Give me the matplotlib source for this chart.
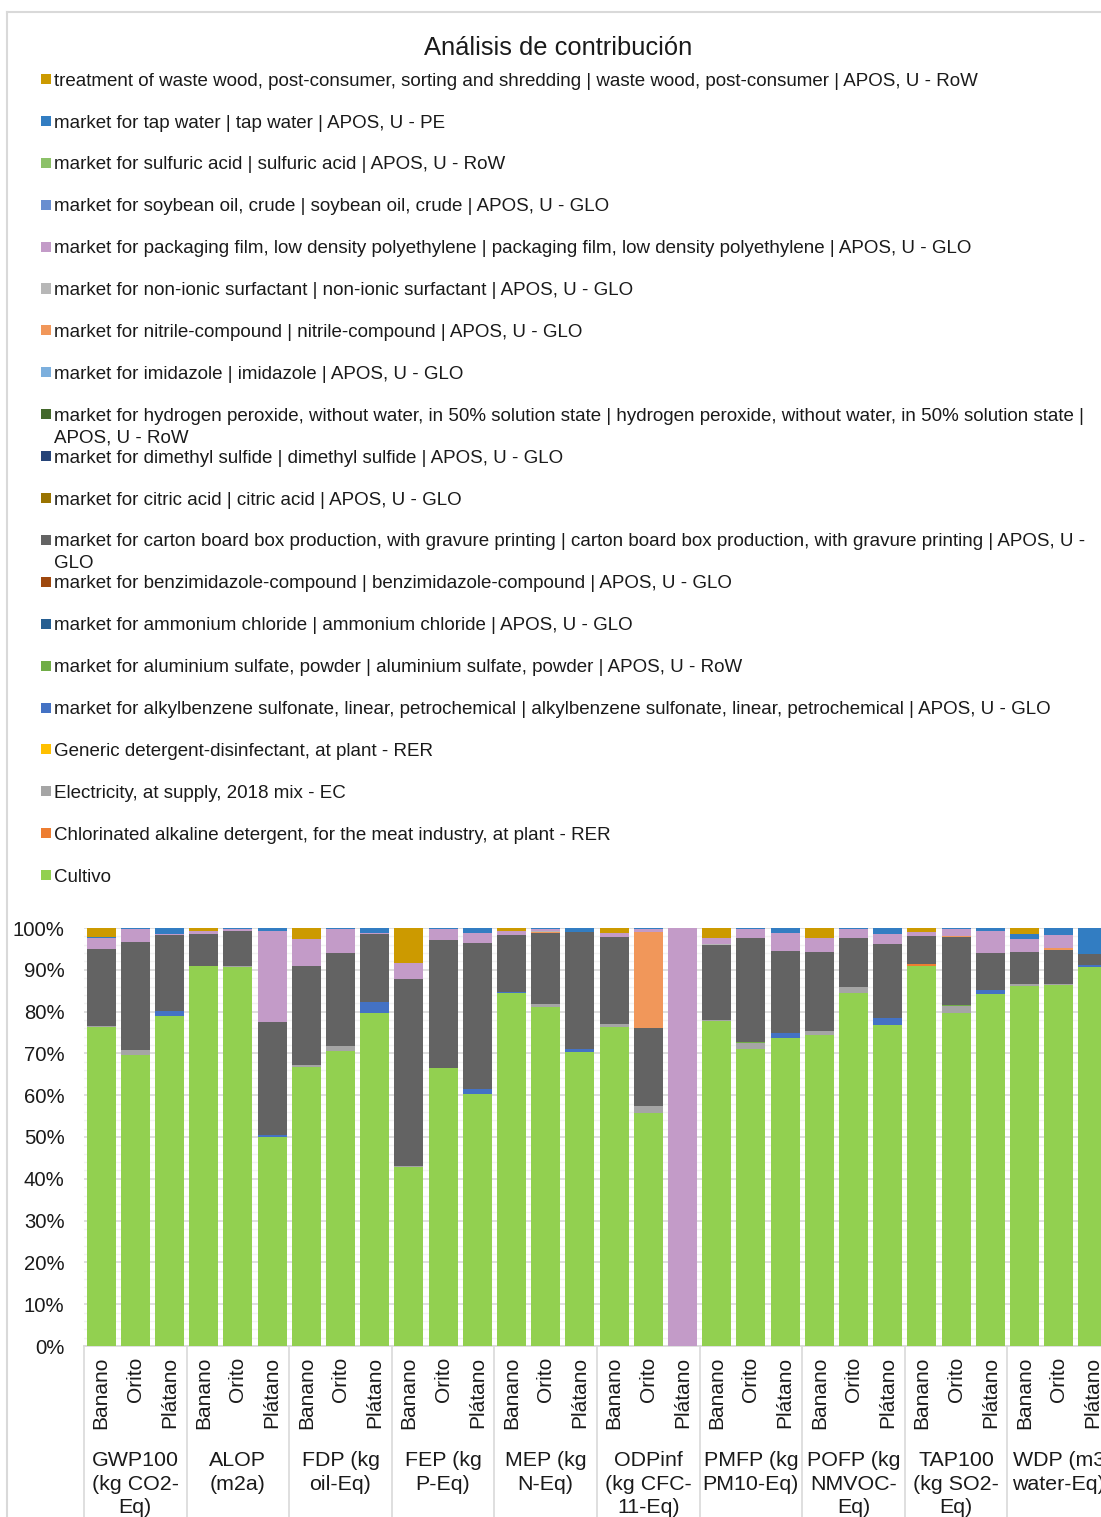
import numpy as np
import matplotlib
matplotlib.use("Agg")
import matplotlib.pyplot as plt
from matplotlib.patches import Rectangle
from matplotlib.lines import Line2D
from matplotlib.ticker import MultipleLocator, FuncFormatter
import matplotlib.transforms as mtransforms

plt.rcParams['font.family'] = ['Liberation Sans', 'DejaVu Sans']

W, H, DPI = 1101, 1517, 100
TXT = '#1a1a1a'

title = "Análisis de contribución"
varieties = ["Banano", "Orito", "Plátano"]
categories = ["GWP100\n(kg CO2-\nEq)", "ALOP\n(m2a)", "FDP (kg\noil-Eq)", "FEP (kg\nP-Eq)",
              "MEP (kg\nN-Eq)", "ODPinf\n(kg CFC-\n11-Eq)", "PMFP (kg\nPM10-Eq)",
              "POFP (kg\nNMVOC-\nEq)", "TAP100\n(kg SO2-\nEq)", "WDP (m3\nwater-Eq)"]

# series, bottom of the stack first
series_names = [
    "Cultivo",
    "Chlorinated alkaline detergent, for the meat industry, at plant - RER",
    "Electricity, at supply, 2018 mix - EC",
    "Generic detergent-disinfectant, at plant - RER",
    "market for alkylbenzene sulfonate, linear, petrochemical | alkylbenzene sulfonate, linear, petrochemical | APOS, U - GLO",
    "market for aluminium sulfate, powder | aluminium sulfate, powder | APOS, U - RoW",
    "market for ammonium chloride | ammonium chloride | APOS, U - GLO",
    "market for benzimidazole-compound | benzimidazole-compound | APOS, U - GLO",
    "market for carton board box production, with gravure printing | carton board box production, with gravure printing | APOS, U -\nGLO",
    "market for citric acid | citric acid | APOS, U - GLO",
    "market for dimethyl sulfide | dimethyl sulfide | APOS, U - GLO",
    "market for hydrogen peroxide, without water, in 50% solution state | hydrogen peroxide, without water, in 50% solution state |\nAPOS, U - RoW",
    "market for imidazole | imidazole | APOS, U - GLO",
    "market for nitrile-compound | nitrile-compound | APOS, U - GLO",
    "market for non-ionic surfactant | non-ionic surfactant | APOS, U - GLO",
    "market for packaging film, low density polyethylene | packaging film, low density polyethylene | APOS, U - GLO",
    "market for soybean oil, crude | soybean oil, crude | APOS, U - GLO",
    "market for sulfuric acid | sulfuric acid | APOS, U - RoW",
    "market for tap water | tap water | APOS, U - PE",
    "treatment of waste wood, post-consumer, sorting and shredding | waste wood, post-consumer | APOS, U - RoW",
]
series_colors = ["#92D050", "#ED7D31", "#A5A5A5", "#FFC000", "#4472C4", "#70AD47",
                 "#255E91", "#9E480E", "#636363", "#997300", "#264478", "#43682B",
                 "#7CAFDD", "#F1975A", "#B7B7B7", "#C39BC8", "#698ED0", "#8CC168",
                 "#327DC2", "#CC9A00"]

cultivo = [76.2, 69.5, 78.9, 90.9, 90.7, 49.9, 66.7, 70.5, 79.6, 42.8,
           66.4, 60.2, 84.5, 81.1, 70.4, 76.4, 55.7, 0.0, 77.7, 71.1,
           73.8, 74.4, 84.5, 76.8, 91.0, 79.6, 84.3, 86.2, 86.4, 90.7]
chlorinated = [0]*24 + [0.3] + [0]*5
electricity = [0.3, 1.2, 0.1, 0.1, 0.1, 0.0, 0.5, 1.3, 0.1, 0.2,
               0.1, 0.0, 0.0, 0.6, 0.0, 0.6, 1.7, 0.0, 0.3, 1.4,
               0.0, 0.9, 1.4, 0.0, 0.0, 1.8, 0.0, 0.3, 0.3, 0.0]
generic = [0]*30
alkylbenzene = [0.0, 0.0, 1.1, 0.0, 0.0, 0.5, 0.0, 0.0, 2.5, 0.0,
                0.0, 1.2, 0.3, 0.0, 0.55, 0.0, 0.0, 0.0, 0.0, 0.0,
                1.2, 0.0, 0.0, 1.6, 0.0, 0.0, 0.8, 0.0, 0.0, 0.4]
aluminium = [0]*19 + [0.3] + [0]*5 + [0.2] + [0]*4
ammonium = [0]*30
benzimidazole = [0]*30
carton = [18.5, 25.85, 18.3, 7.6, 8.4, 27.15, 23.7, 22.15, 16.4, 44.9,
          30.7, 35.1, 13.6, 17.1, 28.15, 20.75, 18.7, 0.0, 17.95, 24.8,
          19.4, 19.05, 11.8, 17.75, 6.9, 16.3, 9.0, 7.75, 8.15, 2.75]
citric = [0]*30
dimethyl = [0]*30
hydrogen = [0]*30
imidazole = [0]*30
nitrile = [0]*13 + [0.3] + [0]*2 + [23.0] + [0]*8 + [0.25] + [0]*2 + [0.45, 0]
nonionic = [0]*13 + [0.2] + [0]*4 + [0.3] + [0]*11
packaging = [2.5, 3.2, 0.2, 0.8, 0.6, 21.8, 6.4, 5.8, 0.1, 3.75,
             2.55, 2.2, 0.8, 0.5, 0.0, 0.95, 0.65, 100.0, 1.35, 2.15,
             4.3, 3.35, 2.05, 2.4, 0.8, 1.6, 5.25, 3.2, 3.05, 0.0]
soybean = [0]*30
sulfuric = [0]*30
tap_water = [0.3, 0.25, 1.4, 0.0, 0.2, 0.65, 0.0, 0.25, 1.3, 0.0,
             0.25, 1.3, 0.0, 0.2, 0.9, 0.0, 0.25, 0.0, 0.0, 0.25,
             1.3, 0.0, 0.25, 1.45, 0.0, 0.25, 0.65, 1.1, 1.65, 6.15]
waste_wood = [2.2, 0.0, 0.0, 0.6, 0.0, 0.0, 2.7, 0.0, 0.0, 8.35,
              0.0, 0.0, 0.8, 0.0, 0.0, 1.3, 0.0, 0.0, 2.4, 0.0,
              0.0, 2.3, 0.0, 0.0, 1.0, 0.0, 0.0, 1.45, 0.0, 0.0]

series_values = [cultivo, chlorinated, electricity, generic, alkylbenzene, aluminium,
                 ammonium, benzimidazole, carton, citric, dimethyl, hydrogen, imidazole,
                 nitrile, nonionic, packaging, soybean, sulfuric, tap_water, waste_wood]

data = np.array(series_values, dtype=float)
data = data / data.sum(axis=0) * 100.0

fig = plt.figure(figsize=(W / DPI, H / DPI), dpi=DPI)

def fx(px):
    return px / W

def fy(py):
    return 1 - py / H

# chart area border (continues past the right/bottom edges)
fig.add_artist(Line2D([fx(7), fx(7)], [fy(12), 0], color='#D9D9D9', lw=1.5))
fig.add_artist(Line2D([fx(7), 1.0], [fy(12), fy(12)], color='#D9D9D9', lw=1.5))

fig.text(fx(558), fy(48), title, ha='center', va='center', fontsize=18.4, color=TXT)

# legend (reverse order, like Excel)
leg_top, leg_step = 79, 41.9
for k, idx in enumerate(range(len(series_names) - 1, -1, -1)):
    yc = leg_top + k * leg_step
    fig.add_artist(Rectangle((fx(41), fy(yc + 5)), 10 / W, 10 / H,
                             transform=fig.transFigure, facecolor=series_colors[idx],
                             edgecolor='none'))
    lines = series_names[idx].split("\n")
    for j, ln in enumerate(lines):
        fig.text(fx(54), fy(yc + 6.6 + j * 22), ln, ha='left', va='baseline',
                 fontsize=13.5, color=TXT)

ax = fig.add_axes([fx(84), fy(1346), (1110 - 84) / W, 418 / H])
x = np.arange(data.shape[1])
bottom = np.zeros(data.shape[1])
for vals, col, name in zip(data, series_colors, series_names):
    ax.bar(x, vals, width=0.85, bottom=bottom, color=col, edgecolor='none',
           label=name, zorder=3)
    bottom += vals

ax.set_xlim(-0.5, len(x) - 0.5)
ax.set_ylim(0, 100)
ax.yaxis.set_major_locator(MultipleLocator(10))
ax.yaxis.set_minor_locator(MultipleLocator(2))
ax.yaxis.set_major_formatter(FuncFormatter(lambda v, p: f"{v:.0f}%"))
ax.grid(which='major', axis='y', color='#D9D9D9', lw=1.2, zorder=0)
ax.grid(which='minor', axis='y', color='#F2F2F2', lw=1.0, zorder=0)
ax.set_axisbelow(True)
for s in ['left', 'right', 'top']:
    ax.spines[s].set_visible(False)
ax.spines['bottom'].set_color('#D9D9D9')
ax.spines['bottom'].set_linewidth(1.2)
ax.tick_params(axis='y', which='both', length=0, pad=14, labelsize=14.6, labelcolor=TXT)
ax.tick_params(axis='x', which='both', length=0, pad=8, labelsize=15, labelcolor=TXT)
ax.set_xticks(x)
ax.set_xticklabels(varieties * len(categories), rotation=90, va='top', ha='center')

trans = mtransforms.blended_transform_factory(ax.transData, ax.transAxes)
ybot = -(H - 1346) / 418 - 0.05
for b in np.arange(-0.5, len(x), 3):
    ax.plot([b, b], [0, ybot], transform=trans, clip_on=False, color='#D9D9D9', lw=1.2)
for i, cat in enumerate(categories):
    ax.text(3 * i + 1, -(1451 - 1346) / 418, cat, transform=trans, ha='center',
            va='top', fontsize=15.4, linespacing=1.3, color=TXT)

fig.savefig("out.png", dpi=DPI)
